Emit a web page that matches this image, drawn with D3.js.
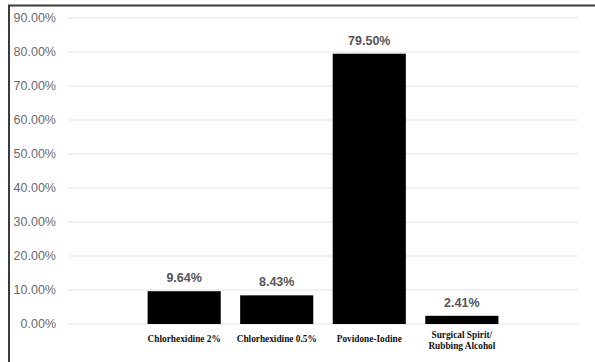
<!DOCTYPE html>
<html lang="en">
<head>
  <meta charset="UTF-8">
  <script src="https://d3js.org/d3.v7.min.js"></script>
  <style>
    body { margin: 0; background: #fff; }
    svg { display: block; }
  </style>
</head>
<body>
  <script>
    const categories = [["Chlorhexidine 2%"], ["Chlorhexidine 0.5%"], ["Povidone-Iodine"], ["Surgical Spirit/", "Rubbing Alcohol"]];
    const values = [9.64, 8.43, 79.50, 2.41];
    const ticks = [0, 10, 20, 30, 40, 50, 60, 70, 80, 90];

    const width = 595;
    const height = 362;

    const svg = d3.select("body")
      .append("svg")
      .attr("width", width)
      .attr("height", height);

    // frame (top and left edges only)
    svg.append("path")
      .attr("d", `M9,${height} V5.5 H${width}`)
      .attr("fill", "none")
      .attr("stroke", "#3a3a3a")
      .attr("stroke-width", 2);

    const x = d3.scaleBand()
      .domain(d3.range(categories.length))
      .range([68, 578])
      .paddingInner(0.21)
      .paddingOuter(0.86);

    const y = d3.scaleLinear()
      .domain([0, 90])
      .range([324, 18]);

    // gridlines
    svg.selectAll("line.grid")
      .data(ticks)
      .enter()
      .append("line")
      .attr("class", "grid")
      .attr("x1", 68)
      .attr("x2", 578)
      .attr("y1", d => y(d))
      .attr("y2", d => y(d))
      .attr("stroke", "#e2e2e2")
      .attr("stroke-width", 1.2);

    // tick labels
    svg.selectAll("text.tick")
      .data(ticks)
      .enter()
      .append("text")
      .attr("class", "tick")
      .attr("x", 56)
      .attr("y", d => y(d))
      .attr("dy", "0.35em")
      .attr("text-anchor", "end")
      .attr("font-family", "Liberation Sans, Arial, sans-serif")
      .attr("font-size", 12.5)
      .attr("fill", "#6b6b6b")
      .text(d => d.toFixed(2) + "%");

    // bars
    svg.selectAll("rect.bar")
      .data(values)
      .enter()
      .append("rect")
      .attr("class", "bar")
      .attr("x", (d, i) => x(i))
      .attr("y", d => y(d))
      .attr("width", x.bandwidth())
      .attr("height", d => y(0) - y(d))
      .attr("fill", "#000");

    // value labels
    svg.selectAll("text.val")
      .data(values)
      .enter()
      .append("text")
      .attr("class", "val")
      .attr("x", (d, i) => x(i) + x.bandwidth() / 2)
      .attr("y", d => y(d) - 9)
      .attr("text-anchor", "middle")
      .attr("font-family", "Liberation Sans, Arial, sans-serif")
      .attr("font-weight", "bold")
      .attr("font-size", 12.5)
      .attr("fill", "#555")
      .text(d => d.toFixed(2) + "%");

    // category labels
    const cat = svg.selectAll("text.cat")
      .data(categories)
      .enter()
      .append("text")
      .attr("class", "cat")
      .attr("x", (d, i) => x(i) + x.bandwidth() / 2)
      .attr("y", d => d.length > 1 ? 338 : 342)
      .attr("text-anchor", "middle")
      .attr("font-family", "Liberation Serif, Times New Roman, serif")
      .attr("font-weight", "bold")
      .attr("font-size", 9.3)
      .attr("fill", "#111");

    cat.selectAll("tspan")
      .data((d, i) => d.map(t => ({ t, cx: x(i) + x.bandwidth() / 2 })))
      .enter()
      .append("tspan")
      .attr("x", d => d.cx)
      .attr("dy", (d, j) => j === 0 ? 0 : 11)
      .text(d => d.t);
  </script>
</body>
</html>
